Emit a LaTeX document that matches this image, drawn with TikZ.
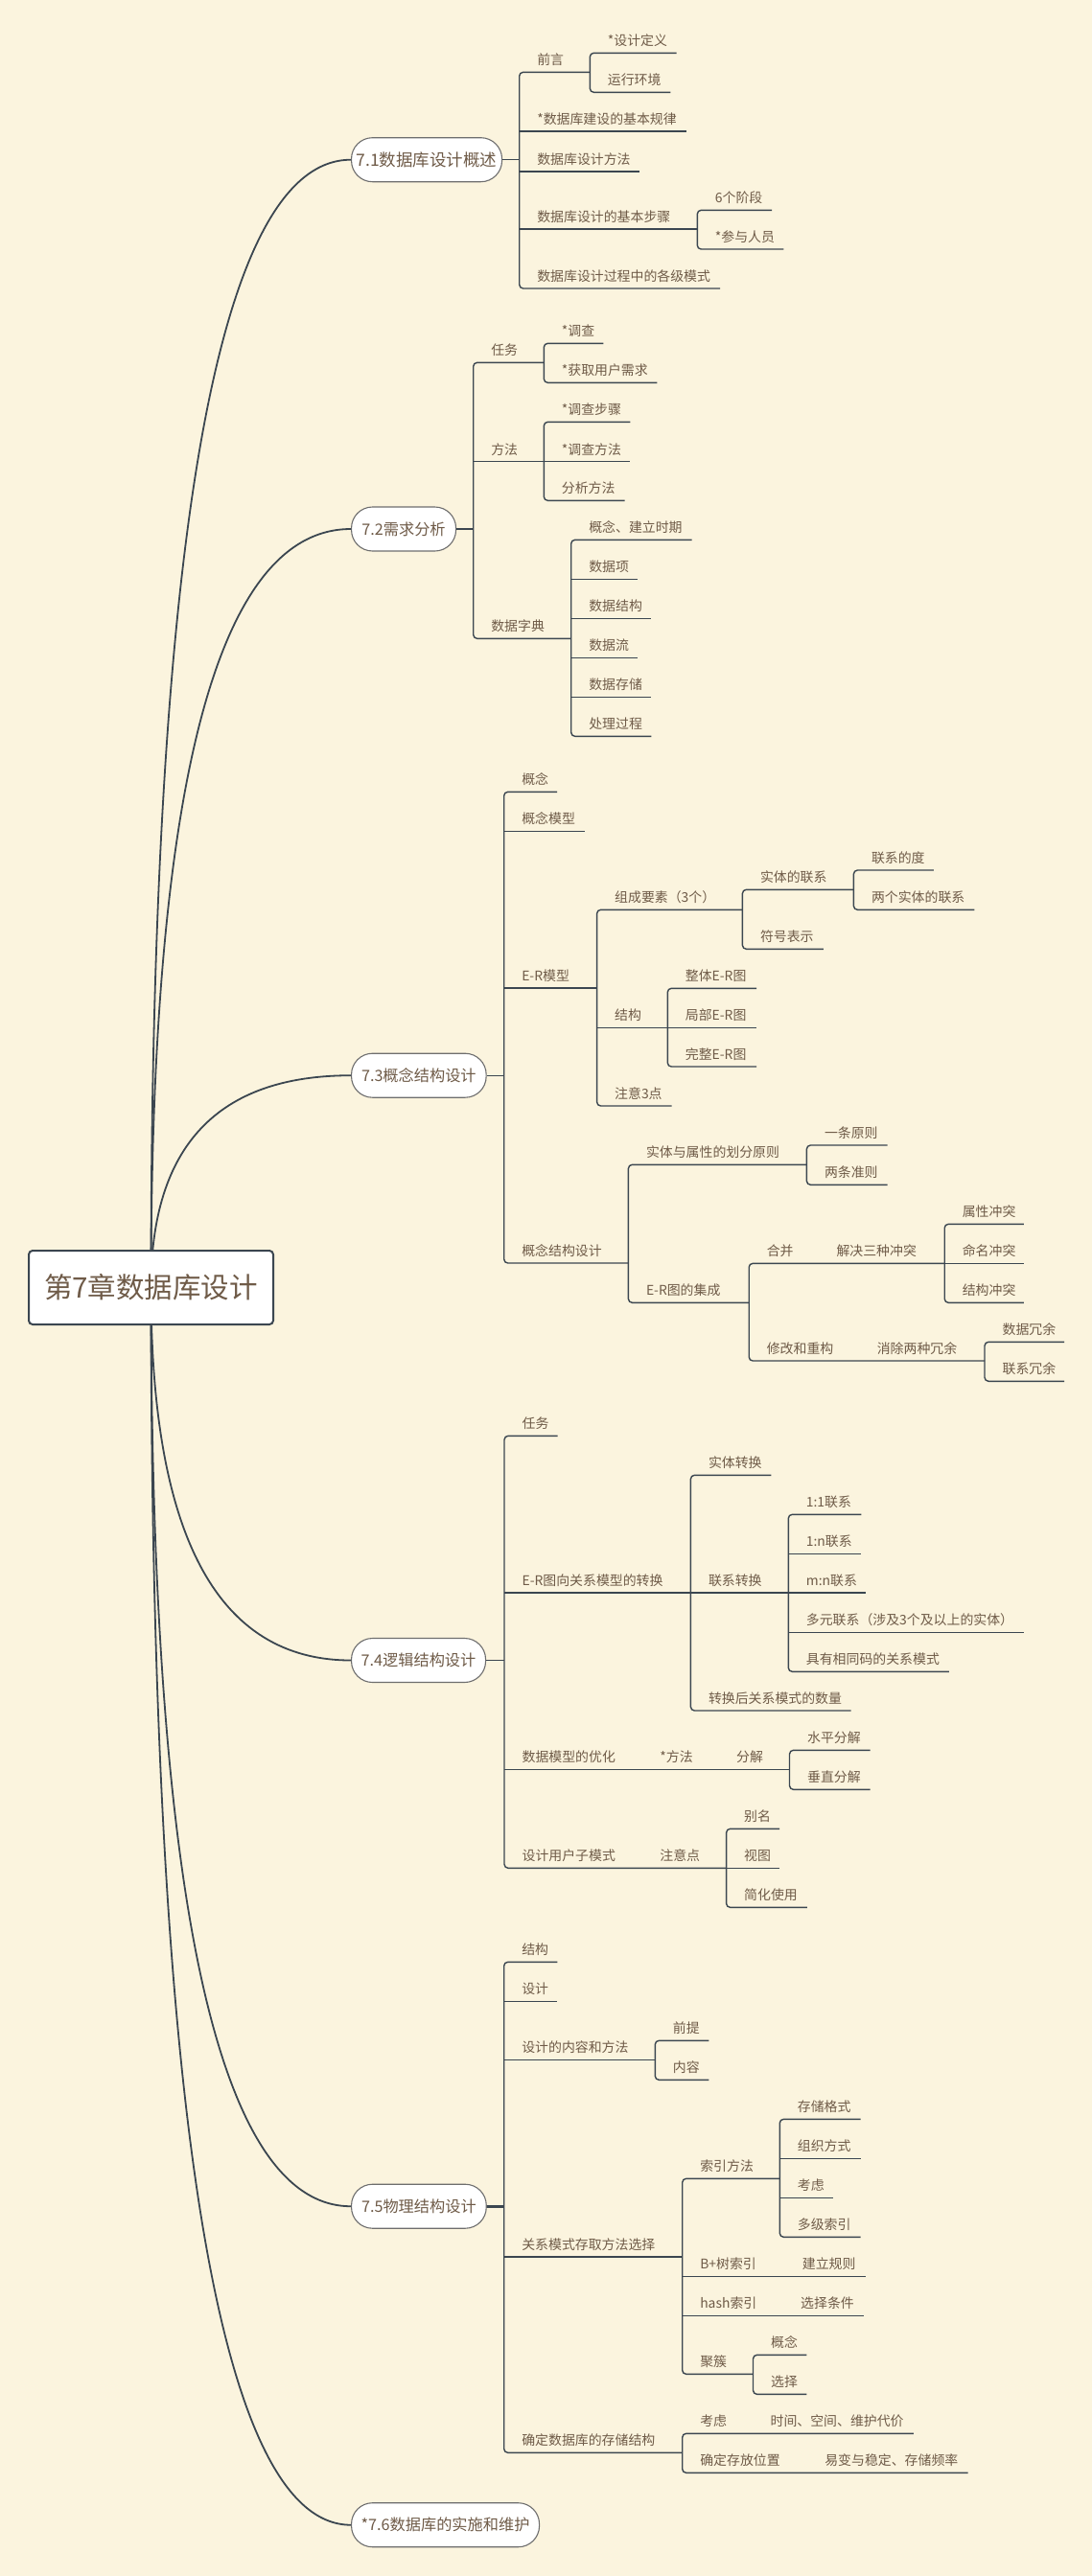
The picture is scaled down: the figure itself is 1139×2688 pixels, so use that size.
\documentclass[tikz,border=0pt]{standalone}
\usepackage{fontspec}
\setmainfont{Noto Sans CJK SC}
\definecolor{bgc}{HTML}{FBF4DE}
\definecolor{lnc}{HTML}{3B4650}
\definecolor{txc}{HTML}{6F5B48}
\definecolor{mbd}{HTML}{6E6E6E}
\newcommand\lffont{\fontsize{13.9}{16}\selectfont}
\newcommand\mnfont{\fontsize{16.2}{19}\selectfont}
\newcommand\rtfont{\fontsize{29.5}{33}\selectfont}
\tikzset{
  ln/.style={draw=lnc,line width=1.4pt},
  lbl/.style={anchor=west,inner sep=0pt,font=\lffont,text=txc},
  mainn/.style={anchor=west,draw=mbd,fill=white,line width=1.1pt,rounded corners=22pt,minimum height=46pt,inner sep=0pt,font=\mnfont,text=txc},
  rootn/.style={draw=lnc,fill=white,line width=2pt,rounded corners=4pt,minimum width=255pt,minimum height=77pt,inner sep=0pt,font=\rtfont,text=txc},
  curv/.style={draw=lnc,line width=1.8pt},
}
% name, busx, y, endx, text
\newcommand\LeafN[5]{%
  \node[lbl] (#1) at ({#2+18.4},{#3-13}) {#5};
  \coordinate (#1-s) at (#2,#3);
  \coordinate (#1-e) at (#4,#3);}
% inline child: name, textx, y, endx, text
\newcommand\LeafI[5]{%
  \node[lbl] (#1) at (#2,{#3-13}) {#5};
  \coordinate (#1-e) at (#4,#3);}
\newcommand\BusL[2]{\draw[ln,rounded corners=4pt] (#1-e) -- (#1-s) -- (#2-s) -- (#2-e);}
\newcommand\MidL[1]{\draw[ln] (#1-s) -- (#1-e);}
\begin{document}
\begin{tikzpicture}[x=1pt,y=-1pt]
\fill[bgc] (0,0) rectangle (1139,2688);
\useasboundingbox (0,0) rectangle (1139,2688);
\coordinate (rc) at (157.5,1343.5);

% main nodes
\node[mainn,minimum width=157pt,font=\fontsize{17.5}{20}\selectfont] (m1) at (366,166.7) {7.1数据库设计概述};
\node[mainn,minimum width=109pt] (m2) at (366,552) {7.2需求分析};
\node[mainn,minimum width=140.6pt] (m3) at (366,1122.2) {7.3概念结构设计};
\node[mainn,minimum width=140pt] (m4) at (366,1732.5) {7.4逻辑结构设计};
\node[mainn,minimum width=140.7pt] (m5) at (366,2302.2) {7.5物理结构设计};
\node[mainn,minimum width=196pt] (m6) at (366,2634.7) {*7.6数据库的实施和维护};

% curves from root
\def\ty{166.7}\draw[curv] (rc) .. controls (157.5,{1343.5+2/3*(\ty-1343.5)}) and (227,\ty) .. (m1.west);
\def\ty{552}\draw[curv] (rc) .. controls (157.5,{1343.5+2/3*(\ty-1343.5)}) and (227,\ty) .. (m2.west);
\def\ty{1122.2}\draw[curv] (rc) .. controls (157.5,{1343.5+2/3*(\ty-1343.5)}) and (227,\ty) .. (m3.west);
\def\ty{1732.5}\draw[curv] (rc) .. controls (157.5,{1343.5+2/3*(\ty-1343.5)}) and (227,\ty) .. (m4.west);
\def\ty{2302.2}\draw[curv] (rc) .. controls (157.5,{1343.5+2/3*(\ty-1343.5)}) and (227,\ty) .. (m5.west);
\def\ty{2634.7}\draw[curv] (rc) .. controls (157.5,{1343.5+2/3*(\ty-1343.5)}) and (227,\ty) .. (m6.west);

\node[rootn] (root) at (rc) {第7章数据库设计};

% ===== 7.1 =====
\LeafN{aA}{541.7}{75.3}{615.3}{前言}
\LeafN{aAa}{615.3}{55.3}{705.7}{*设计定义}
\LeafN{aAb}{615.3}{96.3}{699.3}{运行环境}
\LeafN{aB}{541.7}{137}{715.7}{*数据库建设的基本规律}
\LeafN{aC}{541.7}{179}{667.3}{数据库设计方法}
\LeafN{aD}{541.7}{239}{727.3}{数据库设计的基本步骤}
\LeafN{aDa}{727.3}{219.3}{805}{6个阶段}
\LeafN{aDb}{727.3}{260}{817.3}{*参与人员}
\LeafN{aE}{541.7}{301}{751}{数据库设计过程中的各级模式}
\BusL{aA}{aE}\MidL{aB}\MidL{aC}\MidL{aD}
\BusL{aAa}{aAb}\BusL{aDa}{aDb}
\coordinate (m1b) at (541.7,166.7);
\draw[ln] (m1.east) -- (m1b);

% ===== 7.2 =====
\LeafN{bA}{493.7}{378.3}{567.3}{任务}
\LeafN{bAa}{567.3}{358.3}{629.3}{*调查}
\LeafN{bAb}{567.3}{399.3}{685.3}{*获取用户需求}
\LeafN{bB}{493.7}{481.7}{567.3}{方法}
\LeafN{bBa}{567.3}{440.3}{657.3}{*调查步骤}
\LeafN{bBb}{567.3}{481.7}{657.3}{*调查方法}
\LeafN{bBc}{567.3}{522.3}{651.7}{分析方法}
\LeafN{bC}{493.7}{666.3}{595.7}{数据字典}
\LeafN{bCa}{595.7}{563.3}{721.7}{概念、建立时期}
\LeafN{bCb}{595.7}{604.3}{665.3}{数据项}
\LeafN{bCc}{595.7}{645.3}{679.3}{数据结构}
\LeafN{bCd}{595.7}{686.3}{665.3}{数据流}
\LeafN{bCe}{595.7}{727.3}{679.3}{数据存储}
\LeafN{bCf}{595.7}{768.3}{679.3}{处理过程}
\BusL{bA}{bC}\MidL{bB}
\BusL{bAa}{bAb}
\BusL{bBa}{bBc}\MidL{bBb}
\BusL{bCa}{bCf}\MidL{bCb}\MidL{bCc}\MidL{bCd}\MidL{bCe}
\coordinate (m2b) at (493.7,552);
\draw[ln] (m2.east) -- (m2b);

% ===== 7.3 =====
\LeafN{cA}{525.7}{826.3}{581.1}{概念}
\LeafN{cB}{525.7}{867.3}{609.6}{概念模型}
\LeafN{cC}{525.7}{1031}{622.6}{E-R模型}
\LeafN{cCa}{622.6}{949.3}{774.4}{组成要素（3个）}
\LeafN{cCaa}{774.4}{928.3}{890.4}{实体的联系}
\LeafN{cCaaa}{890.4}{908}{973.9}{联系的度}
\LeafN{cCaab}{890.4}{949.3}{1016.3}{两个实体的联系}
\LeafN{cCab}{774.4}{990.3}{858.8}{符号表示}
\LeafN{cCb}{622.6}{1072.3}{696.3}{结构}
\LeafN{cCba}{696.3}{1031.3}{789.1}{整体E-R图}
\LeafN{cCbb}{696.3}{1072.3}{789.1}{局部E-R图}
\LeafN{cCbc}{696.3}{1113}{789.1}{完整E-R图}
\LeafN{cCc}{622.6}{1154}{700.7}{注意3点}
\LeafN{cD}{525.7}{1318}{655.4}{概念结构设计}
\LeafN{cDa}{655.4}{1215.3}{841.4}{实体与属性的划分原则}
\LeafN{cDaa}{841.4}{1195}{925.5}{一条原则}
\LeafN{cDab}{841.4}{1236.3}{925.5}{两条准则}
\LeafN{cDb}{655.4}{1359.3}{781.2}{E-R图的集成}
\LeafN{cDba}{781.2}{1318.3}{985.2}{合并}
\LeafI{cDbax}{872.3}{1318.3}{985.2}{解决三种冲突}
\LeafN{cDbaa}{985.2}{1277.3}{1067.8}{属性冲突}
\LeafN{cDbab}{985.2}{1318.3}{1067.8}{命名冲突}
\LeafN{cDbac}{985.2}{1359.3}{1067.8}{结构冲突}
\LeafN{cDbb}{781.2}{1420}{1027}{修改和重构}
\LeafI{cDbbx}{914.6}{1420}{1027}{消除两种冗余}
\LeafN{cDbba}{1027}{1400.3}{1110}{数据冗余}
\LeafN{cDbbb}{1027}{1441.3}{1110}{联系冗余}
\BusL{cA}{cD}\MidL{cB}\MidL{cC}
\BusL{cCa}{cCc}\MidL{cCb}
\BusL{cCaa}{cCab}
\BusL{cCaaa}{cCaab}
\BusL{cCba}{cCbc}\MidL{cCbb}
\BusL{cDa}{cDb}
\BusL{cDaa}{cDab}
\BusL{cDba}{cDbb}
\BusL{cDbaa}{cDbac}\MidL{cDbab}
\BusL{cDbba}{cDbbb}
\coordinate (m3b) at (525.7,1122.2);
\draw[ln] (m3.east) -- (m3b);

% ===== 7.4 =====
\LeafN{dA}{526}{1498.3}{581.6}{任务}
\LeafN{dB}{526}{1662}{720.4}{E-R图向关系模型的转换}
\LeafN{dBa}{720.4}{1539.3}{804.4}{实体转换}
\LeafN{dBb}{720.4}{1662}{822.3}{联系转换}
\LeafN{dBba}{822.3}{1580.3}{898.3}{1:1联系}
\LeafN{dBbb}{822.3}{1621.3}{898.3}{1:n联系}
\LeafN{dBbc}{822.3}{1662}{903}{m:n联系}
\LeafN{dBbd}{822.3}{1703.3}{1068.2}{多元联系（涉及3个及以上的实体）}
\LeafN{dBbe}{822.3}{1744.3}{989.9}{具有相同码的关系模式}
\LeafN{dBc}{720.4}{1785}{887.5}{转换后关系模式的数量}
\LeafN{dC}{526}{1846.3}{823.5}{数据模型的优化}
\LeafI{dCx}{688.2}{1846.3}{823.5}{*方法}
\LeafI{dCy}{768}{1846.3}{823.5}{分解}
\LeafN{dCa}{823.5}{1826.3}{907.7}{水平分解}
\LeafN{dCb}{823.5}{1867.3}{907.7}{垂直分解}
\LeafN{dD}{526}{1949.3}{757.6}{设计用户子模式}
\LeafI{dDx}{688.2}{1949.3}{757.6}{注意点}
\LeafN{dDa}{757.6}{1908.3}{813.1}{别名}
\LeafN{dDb}{757.6}{1949.3}{813.1}{视图}
\LeafN{dDc}{757.6}{1990.3}{841.8}{简化使用}
\BusL{dA}{dD}\MidL{dB}\MidL{dC}
\BusL{dBa}{dBc}\MidL{dBb}
\BusL{dBba}{dBbe}\MidL{dBbb}\MidL{dBbc}\MidL{dBbd}
\BusL{dCa}{dCb}
\BusL{dDa}{dDc}\MidL{dDb}
\coordinate (m4b) at (526,1732.5);
\draw[ln] (m4.east) -- (m4b);

% ===== 7.5 =====
\LeafN{eA}{525.7}{2047.3}{581.3}{结构}
\LeafN{eB}{525.7}{2088.3}{581.3}{设计}
\LeafN{eC}{525.7}{2149.3}{683.3}{设计的内容和方法}
\LeafN{eCa}{683.3}{2129.3}{739.3}{前提}
\LeafN{eCb}{683.3}{2170.3}{739.3}{内容}
\LeafN{eD}{525.7}{2355}{711.7}{关系模式存取方法选择}
\LeafN{eDa}{711.7}{2273.3}{813.3}{索引方法}
\LeafN{eDaa}{813.3}{2211.3}{897.7}{存储格式}
\LeafN{eDab}{813.3}{2252.3}{897.7}{组织方式}
\LeafN{eDac}{813.3}{2293.3}{869.3}{考虑}
\LeafN{eDad}{813.3}{2334.3}{897.7}{多级索引}
\LeafN{eDb}{711.7}{2375.3}{902.7}{B+树索引}
\LeafI{eDbx}{836.7}{2375.3}{902.7}{建立规则}
\LeafN{eDc}{711.7}{2416.3}{901}{hash索引}
\LeafI{eDcx}{835}{2416.3}{901}{选择条件}
\LeafN{eDd}{711.7}{2477.3}{785.5}{聚簇}
\LeafN{eDda}{785.5}{2457.3}{841.3}{概念}
\LeafN{eDdb}{785.5}{2498.3}{841.3}{选择}
\LeafN{eE}{525.7}{2559.3}{711.7}{确定数据库的存储结构}
\LeafN{eEa}{711.7}{2539.3}{952.9}{考虑}
\LeafI{eEax}{803.4}{2539.3}{952.9}{时间、空间、维护代价}
\LeafN{eEb}{711.7}{2580.3}{1009.6}{确定存放位置}
\LeafI{eEbx}{860.1}{2580.3}{1009.6}{易变与稳定、存储频率}
\BusL{eA}{eE}\MidL{eB}\MidL{eC}\MidL{eD}
\BusL{eCa}{eCb}
\BusL{eDa}{eDd}\MidL{eDb}\MidL{eDc}
\BusL{eDaa}{eDad}\MidL{eDab}\MidL{eDac}
\BusL{eDda}{eDdb}
\BusL{eEa}{eEb}
\coordinate (m5b) at (525.7,2302.2);
\draw[ln,line width=2.6pt] (m5.east) -- (m5b);
\end{tikzpicture}
\end{document}
